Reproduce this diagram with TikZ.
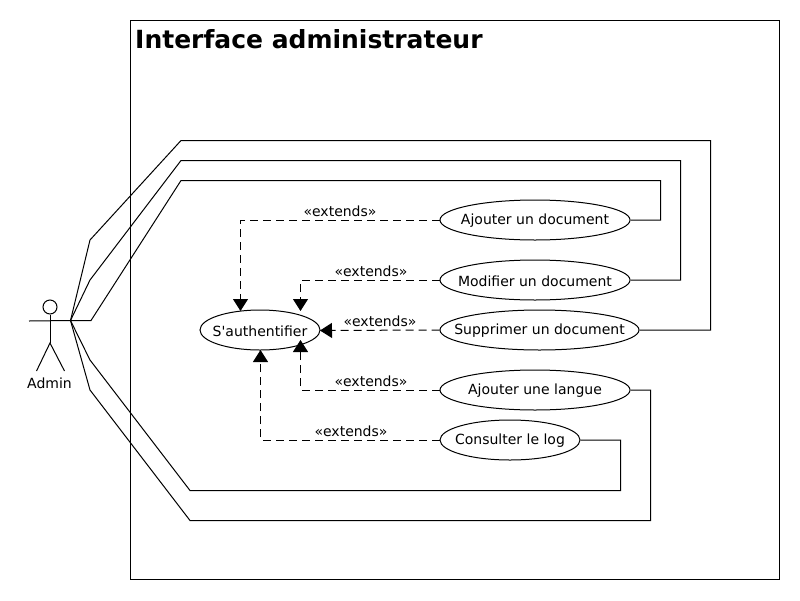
\documentclass[tikz,border=0pt]{standalone}
\usepackage{fontspec}
\setmainfont{DejaVu Sans}
\newfontfamily\plainquote{DejaVu Sans}
\usetikzlibrary{shapes.geometric,arrows.meta}
\tikzset{
  usecase/.style={ellipse,draw=black,line width=1pt,minimum height=40pt,inner sep=0pt},
  uctext/.style={label={[stereo,yshift=-1pt]center:#1}},
  assoc/.style={line width=1pt,line join=miter},
  ext/.style={line width=1pt,dash pattern=on 8pt off 5pt,-{Triangle[length=12pt,width=15pt,sep=0pt]}},
  stereo/.style={inner sep=0pt,font=\fontsize{14}{16}\selectfont},
}
\begin{document}
\begin{tikzpicture}[x=1pt,y=-1pt]
\useasboundingbox (0,0) rectangle (800,600);
\node[draw=black,line width=1pt,minimum width=649pt,minimum height=559pt,inner sep=0pt,anchor=north west] (frame) at (130,20) {};
\node[anchor=base west,inner sep=0pt,font=\fontsize{25}{30}\bfseries\selectfont] (title) at (135,48) {Interface administrateur};

\node[usecase,minimum width=120pt,uctext={S{\plainquote '}authentifier}] (auth) at (260,330) {};
\node[usecase,minimum width=190pt,uctext={Ajouter un document}] (ajd) at (535,220) {};
\node[usecase,minimum width=190pt,uctext={Modifier un document}] (mod) at (535,280) {};
\node[usecase,minimum width=199pt,uctext={Supprimer un document}] (sup) at (539.5,330) {};
\node[usecase,minimum width=190pt,uctext={Ajouter une langue}] (lang) at (535,390) {};
\node[usecase,minimum width=140pt,uctext={Consulter le log}] (log) at (510,440) {};

% actor
\node[circle,draw=black,line width=1pt,minimum size=14pt,inner sep=0pt] (head) at (50,307) {};
\coordinate (hip) at (50,343);
\coordinate (armL) at (29,321);
\coordinate (armR) at (70.5,320.5);
\coordinate (legL) at (36.5,371);
\coordinate (legR) at (64.5,371);
\draw[assoc] (head.south) -- (hip);
\draw[assoc] (armL) -- (armR);
\draw[assoc] (legL) -- (hip) -- (legR);
\node[stereo] (admin) at (49.5,383) {Admin};

% associations
\draw[assoc] (armR) -- (91,320.5) -- (181,180.5) -- (660.5,180.5) |- (ajd.east);
\draw[assoc] (armR) -- (90,280) -- (181,160.5) -- (680.5,160.5) |- (mod.east);
\draw[assoc] (armR) -- (90,240) -- (181,140.5) -- (710.5,140.5) |- (sup.east);
\draw[assoc] (armR) -- (90,360) -- (190,490.5) -- (620.5,490.5) |- (log.east);
\draw[assoc] (armR) -- (90,390) -- (190,520.5) -- (650.5,520.5) |- (lang.east);

% extends
\coordinate (t1) at (240.5,311);
\coordinate (t2) at (300.5,311);
\coordinate (t3) at (320,330.5);
\coordinate (t4) at (300.5,340);
\coordinate (t5) at (260.5,350);
\draw[ext] (ajd.west) -| (t1);
\draw[ext] (mod.west) -| (t2);
\draw[ext] (sup.west) -- (t3);
\draw[ext] (lang.west) -| (t4);
\draw[ext] (log.west) -| (t5);
\node[stereo] (e1) at (340,211.3) {«extends»};
\node[stereo] (e2) at (371,271.3) {«extends»};
\node[stereo] (e3) at (380,321.3) {«extends»};
\node[stereo] (e4) at (371,381.3) {«extends»};
\node[stereo] (e5) at (351,431.3) {«extends»};
\end{tikzpicture}
\end{document}
